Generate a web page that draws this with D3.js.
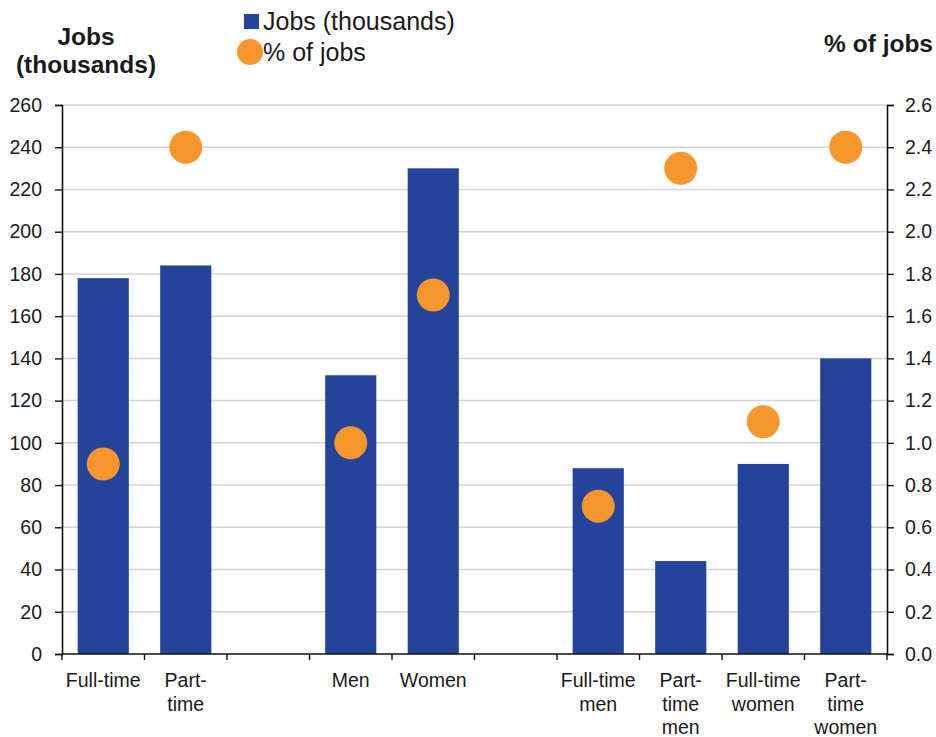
<!DOCTYPE html>
<html>
<head>
<meta charset="utf-8">
<script src="https://cdn.jsdelivr.net/npm/d3@7"></script>
<style>
  html, body { margin: 0; padding: 0; background: #fff; }
  svg { display: block; font-family: "Liberation Sans", Arial, sans-serif; }
</style>
</head>
<body>
<svg id="chart" width="936" height="737"></svg>
<script>
// Category slots (empty slots separate the groups)
const categories = ["Full-time", "Part-time", "", "Men", "Women", "", "Full-time men", "Part-time men", "Full-time women", "Part-time women"];
const categoryLines = [["Full-time"], ["Part-", "time"], [], ["Men"], ["Women"], [], ["Full-time", "men"], ["Part-", "time", "men"], ["Full-time", "women"], ["Part-", "time", "women"]];
const jobs = [178, 184, null, 132, 230, null, 88, 44, 90, 140];
const pctJobs = [0.9, 2.4, null, 1.0, 1.7, null, 0.7, 2.3, 1.1, 2.4];
const leftTicks = [0, 20, 40, 60, 80, 100, 120, 140, 160, 180, 200, 220, 240, 260];
const rightTicks = [0, 0.2, 0.4, 0.6, 0.8, 1.0, 1.2, 1.4, 1.6, 1.8, 2.0, 2.2, 2.4, 2.6];

const barColor = "#23449a";
const dotColor = "#f7962c";
const textColor = "#1a1a1a";

const svg = d3.select("#chart");
const plotLeft = 62, plotRight = 887, plotTop = 105, plotBottom = 654;

const slots = categories.map((c, i) => "slot" + i);
const x = d3.scaleBand().domain(slots).range([plotLeft, plotRight]).paddingInner(0.38).paddingOuter(0.19);
const y = d3.scaleLinear().domain([0, 260]).range([plotBottom, plotTop]);
const y2 = d3.scaleLinear().domain([0, 2.6]).range([plotBottom, plotTop]);

// Horizontal gridlines
svg.append("g")
  .selectAll("line")
  .data(leftTicks.filter(d => d > 0))
  .join("line")
  .attr("x1", plotLeft).attr("x2", plotRight)
  .attr("y1", d => y(d)).attr("y2", d => y(d))
  .attr("stroke", "#d4d4d4").attr("stroke-width", 1.5);

// Bars
svg.append("g")
  .selectAll("rect")
  .data(jobs.map((v, i) => ({ v, key: slots[i] })).filter(d => d.v !== null))
  .join("rect")
  .attr("x", d => x(d.key))
  .attr("width", x.bandwidth())
  .attr("y", d => y(d.v))
  .attr("height", d => y(0) - y(d.v))
  .attr("fill", barColor);

// Percentage markers
svg.append("g")
  .selectAll("circle")
  .data(pctJobs.map((v, i) => ({ v, key: slots[i] })).filter(d => d.v !== null))
  .join("circle")
  .attr("cx", d => x(d.key) + x.bandwidth() / 2)
  .attr("cy", d => y2(d.v))
  .attr("r", 16.5)
  .attr("fill", dotColor);

// Left axis
const gL = svg.append("g").attr("transform", `translate(${plotLeft},0)`)
  .call(d3.axisLeft(y).tickValues(leftTicks).tickSize(7).tickPadding(13));
// Right axis
const gR = svg.append("g").attr("transform", `translate(${plotRight},0)`)
  .call(d3.axisRight(y2).tickValues(rightTicks).tickSize(7).tickPadding(11).tickFormat(d3.format(".1f")));

[gL, gR].forEach(g => {
  g.select(".domain").attr("stroke", "#111").attr("stroke-width", 1.6);
  g.selectAll(".tick line").attr("stroke", "#111").attr("stroke-width", 1.4);
  g.selectAll(".tick text").attr("fill", textColor).style("font-size", "19.5px")
    .style("font-family", "'Liberation Sans', Arial, sans-serif");
});

// Bottom axis with ticks at slot boundaries
const step = x.step();
const boundaries = d3.range(categories.length + 1).map(i => plotLeft + i * step);
const gB = svg.append("g");
gB.append("line")
  .attr("x1", plotLeft).attr("x2", plotRight)
  .attr("y1", plotBottom).attr("y2", plotBottom)
  .attr("stroke", "#111").attr("stroke-width", 1.6);
gB.selectAll("line.tk")
  .data(boundaries)
  .join("line").attr("class", "tk")
  .attr("x1", d => d).attr("x2", d => d)
  .attr("y1", plotBottom).attr("y2", plotBottom + 6)
  .attr("stroke", "#111").attr("stroke-width", 1.4);

// Category labels (multi-line)
const labels = svg.append("g")
  .attr("font-size", 19.5)
  .attr("fill", textColor)
  .attr("text-anchor", "middle");
categoryLines.forEach((lines, i) => {
  const cx = x(slots[i]) + x.bandwidth() / 2;
  const t = labels.append("text").attr("x", cx).attr("y", 687);
  lines.forEach((ln, j) => {
    t.append("tspan").attr("x", cx).attr("y", 687 + j * 23.5).text(ln);
  });
});

// Axis titles
svg.append("text")
  .attr("x", 86).attr("y", 45)
  .attr("text-anchor", "middle")
  .attr("font-size", 24.5).attr("font-weight", "bold").attr("fill", textColor)
  .text("Jobs");
svg.append("text")
  .attr("x", 86).attr("y", 73)
  .attr("text-anchor", "middle")
  .attr("font-size", 24.5).attr("font-weight", "bold").attr("fill", textColor)
  .text("(thousands)");
svg.append("text")
  .attr("x", 933).attr("y", 52)
  .attr("text-anchor", "end")
  .attr("font-size", 24.5).attr("font-weight", "bold").attr("fill", textColor)
  .text("% of jobs");

// Legend
const legend = svg.append("g");
legend.append("rect")
  .attr("x", 244).attr("y", 14).attr("width", 15).attr("height", 15)
  .attr("fill", barColor);
legend.append("text")
  .attr("x", 263).attr("y", 30)
  .attr("font-size", 25).attr("fill", textColor)
  .text("Jobs (thousands)");
legend.append("circle")
  .attr("cx", 250).attr("cy", 52).attr("r", 13)
  .attr("fill", dotColor);
legend.append("text")
  .attr("x", 263).attr("y", 61)
  .attr("font-size", 25).attr("fill", textColor)
  .text("% of jobs");
</script>
</body>
</html>
